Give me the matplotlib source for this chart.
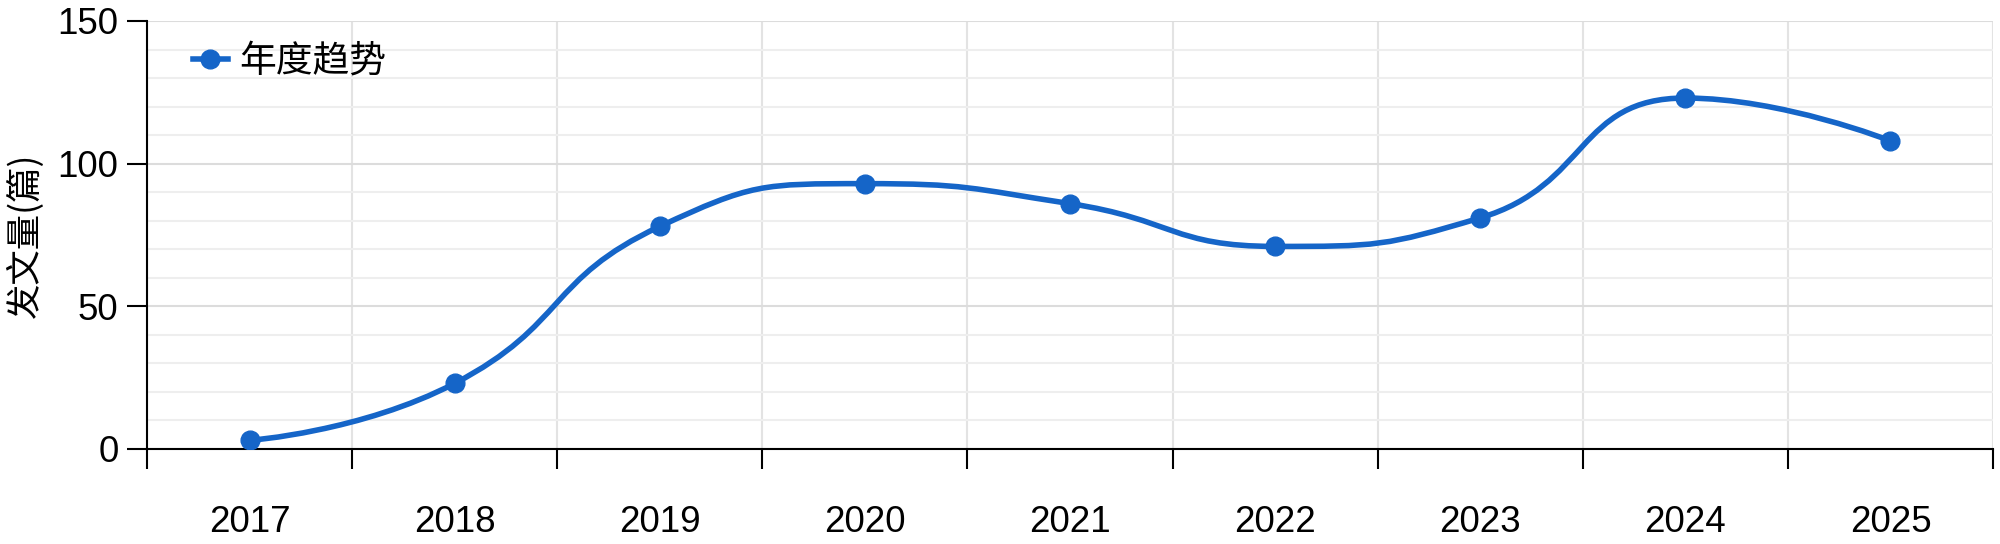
import numpy as np
import matplotlib
matplotlib.use("Agg")
import matplotlib.pyplot as plt
from matplotlib.path import Path
from matplotlib.patches import PathPatch
from matplotlib.lines import Line2D
from matplotlib.ticker import MultipleLocator

# 数据
years = ["2017", "2018", "2019", "2020", "2021", "2022", "2023", "2024", "2025"]
counts = [3, 23, 78, 93, 86, 71, 81, 123, 108]
series_name = "年度趋势"
y_label = "发文量(篇)"

blue = "#1565c8"

plt.rcParams["font.family"] = ["Liberation Sans", "Noto Sans CJK SC", "DejaVu Sans"]


# ECharts 风格的平滑曲线 (smooth=0.5), 在像素坐标下计算控制点
def smooth_path(ax, xs, ys, smooth=0.5):
    pts = ax.transData.transform(np.column_stack([xs, ys]))
    n = len(pts)
    verts = [tuple(pts[0])]
    codes = [Path.MOVETO]
    cp0 = pts[0].copy()
    for i in range(1, n):
        x, y = pts[i]
        px, py = pts[i - 1]
        if i == n - 1:
            ncp0 = np.array([x, y])
            ncp1 = np.array([x, y])
        else:
            nx, ny = pts[i + 1]
            vx, vy = nx - px, ny - py
            d0 = np.hypot(x - px, y - py)
            d1 = np.hypot(nx - x, ny - y)
            r = d1 / (d0 + d1)
            c1x = x + vx * smooth * r
            c1y = y + vy * smooth * r
            c1x = min(c1x, max(nx, x)); c1y = min(c1y, max(ny, y))
            c1x = max(c1x, min(nx, x)); c1y = max(c1y, min(ny, y))
            vx, vy = c1x - x, c1y - y
            c0x = x - vx * d0 / d1
            c0y = y - vy * d0 / d1
            c0x = min(c0x, max(px, x)); c0y = min(c0y, max(py, y))
            c0x = max(c0x, min(px, x)); c0y = max(c0y, min(py, y))
            vx, vy = x - c0x, y - c0y
            c1x = x + vx * d1 / d0
            c1y = y + vy * d1 / d0
            ncp0 = np.array([c0x, c0y])
            ncp1 = np.array([c1x, c1y])
        verts += [tuple(cp0), tuple(ncp0), (x, y)]
        codes += [Path.CURVE4] * 3
        cp0 = ncp1
    inv = ax.transData.inverted()
    return Path(inv.transform(np.array(verts)), codes)


fig = plt.figure(figsize=(20, 5.44), dpi=100)
ax = fig.add_axes([147 / 2000, 1 - 449 / 544, (1993 - 147) / 2000, (449 - 21) / 544])

x = np.arange(len(years))
ax.set_xlim(-0.5, len(years) - 0.5)
ax.set_ylim(0, 150)

# x 轴: 刻度在类目边界, 标签在类目中心
ax.set_xticks(np.arange(-0.5, len(years), 1.0))
ax.set_xticklabels([])
ax.set_xticks(x, minor=True)
ax.set_xticklabels(years, minor=True)
ax.tick_params(axis="x", which="major", direction="out", length=14.5, width=1.5, color="black")
ax.tick_params(axis="x", which="minor", length=0, pad=40, labelsize=26.5)

ax.yaxis.set_major_locator(MultipleLocator(50))
ax.yaxis.set_minor_locator(MultipleLocator(10))
ax.tick_params(axis="y", which="major", direction="out", length=14.5, width=1.5, pad=6, labelsize=26.5)
ax.tick_params(axis="y", which="minor", length=0)

ax.grid(axis="x", which="major", color="#e3e3e3", linewidth=1.5)
ax.grid(axis="y", which="major", color="#dcdcdc", linewidth=1.5)
ax.grid(axis="y", which="minor", color="#eeeeee", linewidth=1.5)
ax.set_axisbelow(True)

for s in ["top", "right"]:
    ax.spines[s].set_visible(False)
for s in ["left", "bottom"]:
    ax.spines[s].set_linewidth(1.5)
    ax.spines[s].set_color("black")

path = smooth_path(ax, x, counts)
ax.add_patch(PathPatch(path, fill=False, edgecolor=blue, linewidth=4.0, zorder=3, capstyle="round"))
ax.plot(x, counts, linestyle="none", marker="o", markersize=13.5, color=blue, zorder=4)

ax.set_ylabel(y_label, fontsize=25.5, family=["Noto Sans CJK SC", "DejaVu Sans"])
ax.yaxis.set_label_coords(-0.056, 0.5)

handle = Line2D([], [], color=blue, linewidth=4.0, marker="o", markersize=13.5)
ax.legend([handle], [series_name], loc="center left", frameon=False, fontsize=26.5,
          bbox_to_anchor=(193 / 2000, 1 - 62 / 544), bbox_transform=fig.transFigure,
          borderpad=0, borderaxespad=0, handlelength=0.95, handletextpad=0.3)

fig.savefig("out.png", dpi=100)
